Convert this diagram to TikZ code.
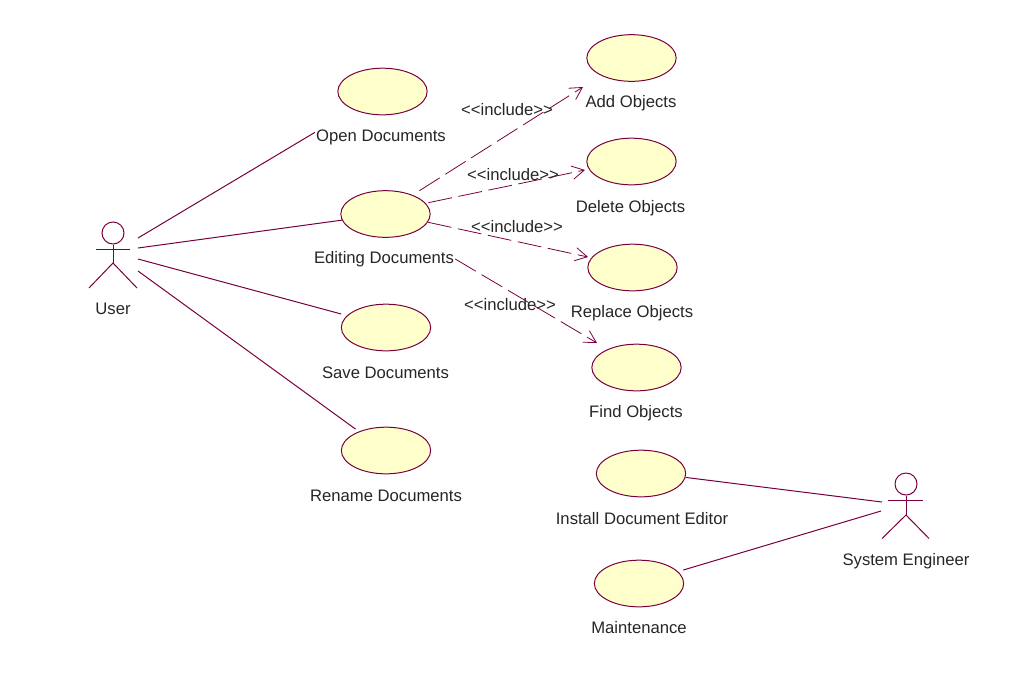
\documentclass[tikz,border=0pt]{standalone}
\usepackage{fontspec}
\setmainfont{Liberation Sans}
\usetikzlibrary{shapes.geometric,arrows.meta}
\definecolor{umlline}{RGB}{120,0,64}
\definecolor{umlfill}{RGB}{255,255,203}
\tikzset{
    usecase/.style={draw=umlline,fill=umlfill,ellipse,line width=0.75pt,minimum width=67pt,minimum height=35pt,inner sep=0pt},
    actorhead/.style={draw=umlline,circle,line width=0.75pt,minimum size=16.5pt,inner sep=0pt},
    actorline/.style={umlline,line width=0.75pt},
    assoc/.style={umlline,line width=0.75pt},
    incl/.style={umlline,line width=0.6pt,dash pattern=on 18pt off 5pt,-{Straight Barb[length=9pt,width=10pt,line width=0.6pt]}},
    caption/.style={font=\fontsize{12.5}{14}\selectfont,inner sep=0.75pt,text=black!85},
    stereo/.style={font=\fontsize{12.5}{14}\selectfont,inner sep=0.75pt,text=black!85}
}
\begin{document}
\begin{tikzpicture}[x=0.75pt,y=-0.75pt]
    \useasboundingbox (0,0) rectangle (1020,690);

    \node[usecase] (ellOpen) at (382.5,91.5){};
        \node[caption] (lblOpen) at (381,137){Open Documents};
    \node[usecase] (ellEdit) at (385.5,214){};
        \node[caption] (lblEdit) at (384,259){Editing Documents};
    \node[usecase] (ellSave) at (386,327.5){};
        \node[caption] (lblSave) at (385.5,373){Save Documents};
    \node[usecase] (ellRename) at (386,450.5){};
        \node[caption] (lblRename) at (386,496){Rename Documents};

    \node[usecase] (ellAdd) at (631.5,58){};
        \node[caption] (lblAdd) at (631,103){Add Objects};
    \node[usecase] (ellDelete) at (631.5,161.5){};
        \node[caption] (lblDelete) at (630.5,208){Delete Objects};
    \node[usecase] (ellReplace) at (632.5,267.5){};
        \node[caption] (lblReplace) at (632,313){Replace Objects};
    \node[usecase] (ellFind) at (636.5,367.5){};
        \node[caption] (lblFind) at (636,413){Find Objects};
    \node[usecase] (ellInstall) at (641,473.5){};
        \node[caption] (lblInstall) at (642,519){Install Document Editor};
    \node[usecase] (ellMaint) at (639,583.5){};
        \node[caption] (lblMaint) at (639,628){Maintenance};

    \node[actorhead] (userHead) at (113,233){};
        \coordinate (userHip) at (113,263);
        \draw[actorline] (userHead) to (userHip);
        \draw[actorline] (96,249) to (130,249);
        \draw[actorline] (89,288) to (userHip) to (137,288);
        \node[caption] (lblUser) at (113,309){User};

    \node[actorhead] (engHead) at (906,484){};
        \coordinate (engHip) at (906,515);
        \draw[actorline] (engHead) to (engHip);
        \draw[actorline] (888,500) to (923,500);
        \draw[actorline] (882,538.5) to (engHip) to (929,538.5);
        \node[caption] (lblEng) at (906,561){System Engineer};

    \coordinate (userA) at (138,238);
    \coordinate (userB) at (138,248);
    \coordinate (userC) at (138,259);
    \coordinate (userD) at (138,271);
    \coordinate (engA) at (882,502);
    \coordinate (engB) at (881,511);

    \draw[assoc] (userA) to (lblOpen.176);
    \draw[assoc] (userB) to (ellEdit.188);
    \draw[assoc,shorten >=4.5pt] (userC) to (ellSave.163);
    \draw[assoc,shorten >=3pt] (userD) to (ellRename.145);
    \draw[assoc] (ellInstall.-5) to (engA);
    \draw[assoc,shorten <=4pt] (ellMaint.17) to (engB);

    \coordinate (tipAdd) at (583,87);
    \coordinate (tipDelete) at (585,170);
    \coordinate (tipReplace) at (588,257);
    \coordinate (tipFind) at (597,343);

    \draw[incl,shorten <=6pt] (ellEdit.35) to (tipAdd);
    \draw[incl,shorten <=2pt] (ellEdit.15) to (tipDelete);
    \draw[incl] (ellEdit.-11) to (tipReplace);
    \draw[incl] (lblEdit.east) to (tipFind);

    \node[stereo] (stAdd) at (507,109.5){<{}<include>{}>};
    \node[stereo] (stDelete) at (513,174.5){<{}<include>{}>};
    \node[stereo] (stReplace) at (517,226.5){<{}<include>{}>};
    \node[stereo] (stFind) at (510,304.5){<{}<include>{}>};
\end{tikzpicture}
\end{document}
